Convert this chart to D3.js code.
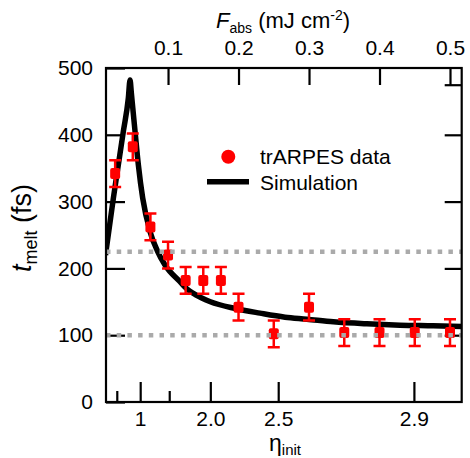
<!DOCTYPE html>
<html>
<head>
<meta charset="utf-8">
<script src="https://cdn.jsdelivr.net/npm/d3@7"></script>
<style>
  body { margin: 0; background: #fff; }
  svg { display: block; font-family: "Liberation Sans", Arial, Helvetica, sans-serif; }
</style>
</head>
<body>
<svg id="chart" width="470" height="458"></svg>
<script>
// ---- data ----
const dataF = [0.025, 0.05, 0.075, 0.1, 0.125, 0.15, 0.175, 0.2, 0.25, 0.3, 0.35, 0.4, 0.45, 0.5];
const dataT = [342, 382, 262, 220, 182, 182, 182, 142, 102, 142, 104, 104, 104, 104];
const dataErr = [20, 20, 20, 20, 20, 20, 20, 20, 20, 20, 20, 20, 20, 20];

const simF = [0.0113, 0.0224, 0.0295, 0.0366, 0.0437, 0.0461, 0.0480, 0.0500, 0.0532, 0.0579, 0.0641, 0.0745, 0.0850, 0.0957, 0.117, 0.124, 0.140, 0.160, 0.195, 0.2305, 0.266, 0.297, 0.3345, 0.382, 0.429, 0.476, 0.5166];
const simT = [220, 305, 355, 405, 455, 482, 462, 440, 405, 355, 305, 255, 226, 205, 180, 172, 160, 150, 140, 133, 127, 124, 120, 117, 115, 114, 113];

const refLines = [225, 100];

const topTicks = [0.1, 0.2, 0.3, 0.4, 0.5];
const leftTicks = [0, 100, 200, 300, 400, 500];
const rightTicks = [100, 200, 300, 400, 475];
const etaTickF = [0.0273, 0.0605, 0.1017, 0.160, 0.2563, 0.4488];
const etaLabels = ["", "1", "", "2.0", "2.5", "2.9"];
const etaMajor = [false, true, false, true, true, true];

const legendLabels = ["trARPES data", "Simulation"];

// ---- layout ----
const L = 106, R = 461.7, T = 68, B = 402;
const svg = d3.select("#chart");
const x = d3.scaleLinear().domain([0.012, 0.5166]).range([L, R]);
const y = d3.scaleLinear().domain([0, 500]).range([B, T]);
const FS = 21;

svg.append("defs").append("clipPath").attr("id", "plotclip")
  .append("rect").attr("x", L).attr("y", T).attr("width", R - L).attr("height", B - T);

// top axis
const gTop = svg.append("g").attr("transform", `translate(0,${T})`)
  .call(d3.axisTop(x).tickValues(topTicks).tickSizeInner(-17).tickSizeOuter(0).tickPadding(13)
    .tickFormat(d3.format(".1f")));
// left axis
const gLeft = svg.append("g").attr("transform", `translate(${L},0)`)
  .call(d3.axisLeft(y).tickValues(leftTicks).tickSizeInner(-19).tickSizeOuter(0).tickPadding(13));
// right axis
const gRight = svg.append("g").attr("transform", `translate(${R},0)`)
  .call(d3.axisRight(y).tickValues(rightTicks).tickSizeInner(-17).tickSizeOuter(0).tickFormat(""));
// bottom axis
const gBot = svg.append("g").attr("transform", `translate(0,${B})`)
  .call(d3.axisBottom(x).tickValues(etaTickF).tickSizeInner(-20).tickSizeOuter(0).tickPadding(9)
    .tickFormat((d, i) => etaLabels[i]));
gBot.selectAll(".tick line").attr("y2", (d, i) => etaMajor[i] ? -20 : -11);

[gTop, gLeft, gRight, gBot].forEach(g => {
  g.select(".domain").remove();
  g.selectAll(".tick line").attr("stroke", "#000").attr("stroke-width", 2.2);
  g.selectAll(".tick text").attr("font-size", FS).attr("fill", "#000")
    .attr("font-family", '"Liberation Sans", Arial, sans-serif');
});

// plot layer
const plot = svg.append("g").attr("clip-path", "url(#plotclip)");

// simulation curve
const line = d3.line().x((d, i) => x(simF[i])).y((d, i) => y(simT[i])).curve(d3.curveMonotoneX);
plot.append("path").datum(simT).attr("d", line)
  .attr("fill", "none").attr("stroke", "#000").attr("stroke-width", 5.5).attr("stroke-linejoin", "round");

// data with error bars
const pts = plot.append("g").selectAll("g").data(dataT).join("g");
pts.append("line")
  .attr("x1", (d, i) => x(dataF[i])).attr("x2", (d, i) => x(dataF[i]))
  .attr("y1", (d, i) => y(d - dataErr[i])).attr("y2", (d, i) => y(d + dataErr[i]))
  .attr("stroke", "#ff0000").attr("stroke-width", 2.5);
[-1, 1].forEach(s => {
  pts.append("line")
    .attr("x1", (d, i) => x(dataF[i]) - 6).attr("x2", (d, i) => x(dataF[i]) + 6)
    .attr("y1", (d, i) => y(d + s * dataErr[i])).attr("y2", (d, i) => y(d + s * dataErr[i]))
    .attr("stroke", "#ff0000").attr("stroke-width", 2.5);
});
pts.append("rect")
  .attr("x", (d, i) => x(dataF[i]) - 5).attr("y", d => y(d) - 5.5)
  .attr("width", 10).attr("height", 11).attr("rx", 2)
  .attr("fill", "#ff0000");

// reference dotted lines
plot.selectAll(".ref").data(refLines).join("line")
  .attr("x1", L).attr("x2", R).attr("y1", d => y(d)).attr("y2", d => y(d))
  .attr("stroke", "#aaaaaa").attr("stroke-width", 4.5).attr("stroke-dasharray", "4.5,6.2");

// frame
svg.append("rect").attr("x", L).attr("y", T).attr("width", R - L).attr("height", B - T)
  .attr("fill", "none").attr("stroke", "#000").attr("stroke-width", 2.2);

// legend
svg.append("circle").attr("cx", 228.3).attr("cy", 156.7).attr("r", 7).attr("fill", "#ff0000");
svg.append("line").attr("x1", 207).attr("x2", 249).attr("y1", 181.7).attr("y2", 181.7)
  .attr("stroke", "#000").attr("stroke-width", 5.5);
svg.append("text").attr("x", 260).attr("y", 163.5).attr("font-size", FS).text(legendLabels[0]);
svg.append("text").attr("x", 260).attr("y", 189.5).attr("font-size", FS).text(legendLabels[1]);

// top title
const tt = svg.append("text").attr("x", 283).attr("y", 28).attr("text-anchor", "middle").attr("font-size", 22);
tt.append("tspan").attr("font-style", "italic").text("F");
tt.append("tspan").attr("font-size", 14).attr("dy", 5).text("abs");
tt.append("tspan").attr("dy", -5).text(" (mJ cm");
tt.append("tspan").attr("font-size", 14).attr("dy", -8).text("-2");
tt.append("tspan").attr("dy", 8).text(")");

// bottom title
const bt = svg.append("text").attr("x", 285).attr("y", 450.5).attr("text-anchor", "middle").attr("font-size", 23);
bt.append("tspan").text("η");
bt.append("tspan").attr("font-size", 15).attr("dy", 4).text("init");

// y title
const yt = svg.append("text").attr("transform", "translate(31,228) rotate(-90)")
  .attr("text-anchor", "middle").attr("font-size", 27);
yt.append("tspan").attr("font-style", "italic").text("t");
yt.append("tspan").attr("font-size", 18).attr("dy", 6).text("melt");
yt.append("tspan").attr("dy", -6).text(" (fs)");
</script>
</body>
</html>
